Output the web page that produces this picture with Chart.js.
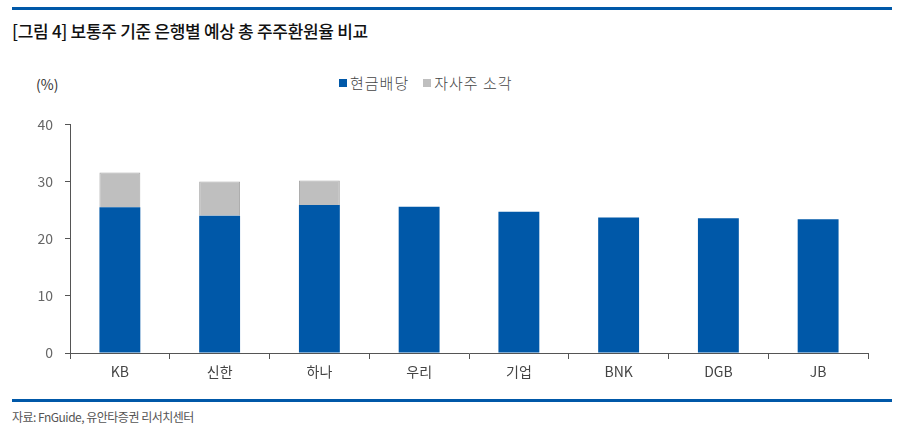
<!DOCTYPE html>
<html>
<head>
<meta charset="utf-8">
<script src="https://cdn.jsdelivr.net/npm/chart.js@4"></script>
<style>
  body { margin: 0; background: #fff; font-family: "Noto Sans CJK KR", sans-serif; }
  #wrap { position: relative; width: 904px; height: 448px; overflow: hidden; }
  .rule { position: absolute; left: 12px; width: 880px; height: 3px; background: #0058a8; }
  #title { position: absolute; left: 12px; top: 18px; font-size: 17px; font-weight: 500; color: #111; letter-spacing: -0.3px; }
  #unit { position: absolute; left: 36px; top: 74px; font-size: 14px; color: #333; }
  #legend { position: absolute; left: 339px; top: 72px; font-size: 15px; font-weight: 300; color: #444; display: flex; gap: 14px; letter-spacing: 1px; }
  #legend span i { display: inline-block; width: 8px; height: 8px; margin-right: 3px; vertical-align: 2px; }
  #source { position: absolute; left: 12px; top: 408px; font-size: 12px; color: #555; letter-spacing: -0.5px; }
  #box { position: absolute; left: 0; top: 104px; width: 904px; height: 296px; }
</style>
</head>
<body>
<div id="wrap">
  <div class="rule" style="top:7px"></div>
  <div id="title">[그림 4] 보통주 기준 은행별 예상 총 주주환원율 비교</div>
  <div id="unit">(%)</div>
  <div id="legend">
    <span><i style="background:#0058a8"></i>현금배당</span>
    <span><i style="background:#bfbfbf"></i>자사주 소각</span>
  </div>
  <div id="box"><canvas id="myChart"></canvas></div>
  <div class="rule" style="top:399px"></div>
  <div id="source">자료: FnGuide, 유안타증권 리서치센터</div>
</div>
<script>
// 은행별 데이터
const banks = ["KB", "신한", "하나", "우리", "기업", "BNK", "DGB", "JB"];
const cashDividend = [25.5, 24.0, 25.9, 25.6, 24.7, 23.7, 23.6, 23.4];
const buyback = [6.1, 6.0, 4.3, 0, 0, 0, 0, 0];
const yTicks = [0, 10, 20, 30, 40];

const ctx = document.getElementById("myChart").getContext("2d");
const myChart = new Chart(ctx, {
  type: 'bar',
  data: {
    labels: banks,
    datasets: [{
      label: '현금배당',
      data: cashDividend,
      backgroundColor: '#0058a8',
      borderColor: '#0058a8',
      borderWidth: 0
    }, {
      label: '자사주 소각',
      data: buyback,
      backgroundColor: '#bfbfbf',
      borderColor: '#a6a6a6',
      borderWidth: 1
    }]
  },
  options: {
    responsive: true,
    maintainAspectRatio: false,
    animation: false,
    layout: { padding: { left: 30, right: 36, top: 8, bottom: 0 } },
    plugins: { legend: { display: false }, tooltip: { enabled: false } },
    datasets: { bar: { categoryPercentage: 1, barPercentage: 0.41 } },
    scales: {
      x: {
        stacked: true,
        grid: { display: true, drawOnChartArea: false, drawTicks: true, tickLength: 6, color: '#555', offset: true },
        border: { display: true, color: '#555', width: 1 },
        ticks: { color: '#444', font: { size: 14, family: "'Noto Sans CJK KR', sans-serif" }, padding: 4 },
        afterFit: s => { s.height = 47; }
      },
      y: {
        stacked: true,
        min: 0,
        max: 40,
        afterBuildTicks: s => { s.ticks = yTicks.map(v => ({ value: v })); },
        grid: { display: true, drawOnChartArea: false, drawTicks: true, tickLength: 5, color: '#555' },
        border: { display: true, color: '#555', width: 1 },
        ticks: { color: '#666', font: { size: 14, family: "'Noto Sans CJK KR', sans-serif" }, padding: 12 },
        afterFit: s => { s.width = 40; }
      }
    }
  }
});
</script>
</body>
</html>
